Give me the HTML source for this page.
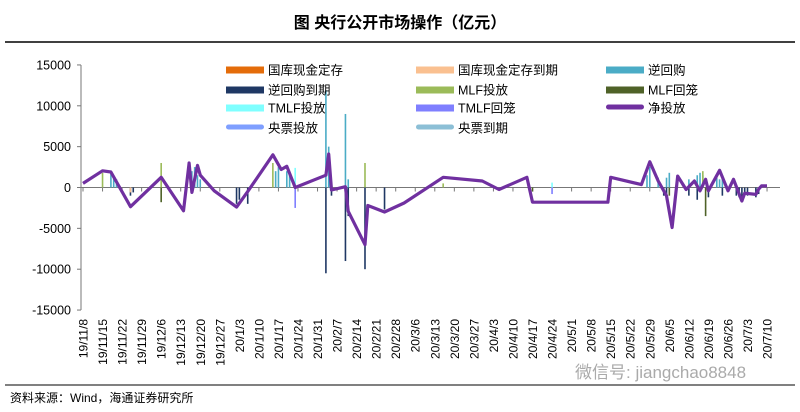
<!DOCTYPE html>
<html><head><meta charset="utf-8"><style>
body{margin:0;background:#fff;}
svg{display:block;font-family:"Liberation Sans","Noto Sans CJK SC",sans-serif;}
</style></head><body>
<svg id="c" width="800" height="412">
<text x="400" y="28" text-anchor="middle" font-size="16" font-weight="bold" fill="#000">图  央行公开市场操作（亿元）</text>
<line x1="5" y1="42" x2="795" y2="42" stroke="#000" stroke-width="1.5"/>
<g id="axes"></g><g id="bars"></g><g id="line"></g><g id="legend"></g>
<line x1="5" y1="385" x2="795" y2="385" stroke="#000" stroke-width="1"/>
<text x="10" y="402" font-size="12" fill="#000">资料来源：Wind，海通证券研究所</text>
<text x="575" y="378" font-size="17" fill="#aaa">微信号: jiangchao8848</text>
</svg>
<script>
const tickLabels=["19/11/8","19/11/15","19/11/22","19/11/29","19/12/6","19/12/13","19/12/20","19/12/27","20/1/3","20/1/10","20/1/17","20/1/24","20/1/31","20/2/7","20/2/14","20/2/21","20/2/28","20/3/6","20/3/13","20/3/20","20/3/27","20/4/3","20/4/10","20/4/17","20/4/24","20/5/1","20/5/8","20/5/15","20/5/22","20/5/29","20/6/5","20/6/12","20/6/19","20/6/26","20/7/3","20/7/10"];
const yTicks=[15000,10000,5000,0,-5000,-10000,-15000];
const netDates=["2019-11-08","2019-11-15","2019-11-18","2019-11-25","2019-12-06","2019-12-14","2019-12-16","2019-12-17","2019-12-19","2019-12-20","2019-12-25","2020-01-02","2020-01-06","2020-01-15","2020-01-18","2020-01-20","2020-01-23","2020-02-03","2020-02-04","2020-02-05","2020-02-10","2020-02-11","2020-02-17","2020-02-18","2020-02-24","2020-03-02","2020-03-16","2020-03-30","2020-04-05","2020-04-15","2020-04-17","2020-05-14","2020-05-15","2020-05-26","2020-05-29","2020-06-01","2020-06-04","2020-06-06","2020-06-08","2020-06-11","2020-06-14","2020-06-16","2020-06-18","2020-06-19","2020-06-23","2020-06-26","2020-06-28","2020-07-01","2020-07-02","2020-07-06","2020-07-07","2020-07-08","2020-07-10"];
const netValues=[500,2050,1900,-2350,1250,-2850,3000,-600,2700,1500,-400,-2400,-500,4000,2200,2600,0,1500,4100,-300,100,-2900,-7000,-2200,-3000,-1900,1250,800,-250,1250,-1800,-1800,1250,350,3150,800,-1000,-4900,1400,-250,800,-400,1000,-400,2100,-400,1000,-1650,-700,-850,-200,200,200];
const repoDates=["2019-11-18","2019-11-19","2019-11-20","2019-12-17","2019-12-18","2019-12-19","2019-12-20","2020-01-16","2020-01-17","2020-01-20","2020-01-21","2020-02-03","2020-02-04","2020-02-10","2020-02-11","2020-05-28","2020-05-29","2020-06-01","2020-06-04","2020-06-05","2020-06-12","2020-06-15","2020-06-16","2020-06-17","2020-06-22","2020-06-23","2020-06-24"];
const repoValues=[1800,1500,1000,2000,2500,1500,1000,2000,2500,2000,1500,11900,5000,9000,1000,1500,2500,1200,1200,1800,1000,1500,1800,1500,1200,1000,1500];
const repoMatDates=["2019-11-25","2019-11-26","2020-01-02","2020-01-03","2020-01-06","2020-02-03","2020-02-05","2020-02-10","2020-02-11","2020-02-17","2020-02-24","2020-06-03","2020-06-04","2020-06-12","2020-06-15","2020-06-19","2020-06-24","2020-06-29","2020-06-30","2020-07-01","2020-07-02","2020-07-03","2020-07-06","2020-07-07"];
const repoMatValues=[-1000,-600,-2000,-1500,-2000,-10500,-1000,-9000,-3500,-10000,-2700,-1000,-1500,-1000,-1500,-1200,-1000,-1000,-1200,-1500,-1000,-1000,-1200,-800];
const mlfDates=["2019-11-15","2019-12-06","2020-01-15","2020-02-17","2020-03-16","2020-06-17"];
const mlfValues=[1800,3000,3000,3000,500,2000];
const mlfBackDates=["2019-12-06","2020-04-17","2020-06-05","2020-06-18"];
const mlfBackValues=[-1800,-500,-1000,-3500];
const tmlfDates=["2020-01-23","2020-04-24"];
const tmlfValues=[2400,600];
const tmlfBackDates=["2020-01-23","2020-04-24"];
const tmlfBackValues=[-2500,-800];
const cashDates=["2019-11-25"];
const cashValues=[-600];

const NS="http://www.w3.org/2000/svg";
const t0=Date.UTC(2019,10,8);
function day(s){const p=s.split("-");return (Date.UTC(+p[0],+p[1]-1,+p[2])-t0)/86400000;}
function X(d){return 83+d*2.792;}
function Y(v){return 187.5-v*0.00817;}
function mk(tag,attrs,parent){const e=document.createElementNS(NS,tag);for(const k in attrs)e.setAttribute(k,attrs[k]);parent.appendChild(e);return e;}
const ax=document.getElementById("axes");
let l=mk("line",{x1:81,y1:Y(15000),x2:81,y2:Y(-15000),stroke:"#777"},ax);


yTicks.forEach(v=>{
  let t=mk("line",{x1:77,x2:81,y1:Y(v),y2:Y(v),stroke:"#777"},ax);
  
  
  let tx=mk("text",{x:71,y:Y(v)+4.5,"text-anchor":"end","font-size":"12.5",fill:"#000"},ax);
  tx.textContent=v;
  
  
});
let xa=mk("line",{x1:81,y1:Y(0),x2:780,y2:Y(0),stroke:"#777"},ax);


tickLabels.forEach((s,i)=>{
  const x=X(i*7);
  let t=mk("line",{x1:x,x2:x,y1:Y(0),y2:Y(0)+4,stroke:"#777"},ax);
  
  
  let tx=mk("text",{x:0,y:0,"text-anchor":"end","font-size":"12",fill:"#000",transform:`translate(${x+4.5},319) rotate(-90)`},ax);
  tx.textContent=s;
  
  
});
const bg=document.getElementById("bars");
function series(dates,vals,color,name,w){
  dates.forEach((d,i)=>{
    const x=X(day(d)),v=vals[i];
    const r=mk("rect",{x:x-w/2,y:Math.min(Y(v),Y(0)),width:w,height:Math.abs(Y(v)-Y(0)),fill:color},bg);
    
    
  });
}
series(repoDates,repoValues,"#4bacc6","bar-reverse-repo",1.6);
series(repoMatDates,repoMatValues,"#1f3864","bar-reverse-repo-maturity",1.6);
series(mlfDates,mlfValues,"#9bbb59","bar-mlf-injection",1.6);
series(mlfBackDates,mlfBackValues,"#4f6228","bar-mlf-withdrawal",1.6);
series(tmlfDates,tmlfValues,"#7fffff","bar-tmlf-injection",1.6);
series(tmlfBackDates,tmlfBackValues,"#7f7fff","bar-tmlf-withdrawal",1.6);
series(cashDates,cashValues,"#fac090","bar-treasury-deposit",1.6);
const lg=document.getElementById("line");
const pts=netDates.map((d,i)=>X(day(d)).toFixed(1)+","+Y(netValues[i]).toFixed(1)).join(" ");
const pl=mk("polyline",{points:pts,fill:"none",stroke:"#7030a0","stroke-width":3.2,"stroke-linejoin":"round"},lg);


const legNames=["国库现金定存","国库现金定存到期","逆回购","逆回购到期","MLF投放","MLF回笼","TMLF投放","TMLF回笼","净投放","央票投放","央票到期"];
const legColors=["#e46c0a","#fac090","#4bacc6","#1f3864","#9bbb59","#4f6228","#7fffff","#7f7fff","#7030a0","#7f9fff","#8cbfd6"];
const legCols=[226,416,606],legRows=[70,90,108,128];
const legG=document.getElementById("legend");
legNames.forEach((n,i)=>{
  const cx=legCols[i%3],cy=legRows[Math.floor(i/3)];
  const g=mk("g",{},legG);
  
  
  const isLine=(i>=8);
  mk("rect",{x:cx,y:cy-3.5,width:38,height:isLine?5:7,rx:isLine?2.5:0,fill:legColors[i]},g);
  const t=mk("text",{x:cx+42,y:cy+4.5,"font-size":"12.5",fill:"#000"},g);
  t.textContent=n;
});
</script>
</body></html>
